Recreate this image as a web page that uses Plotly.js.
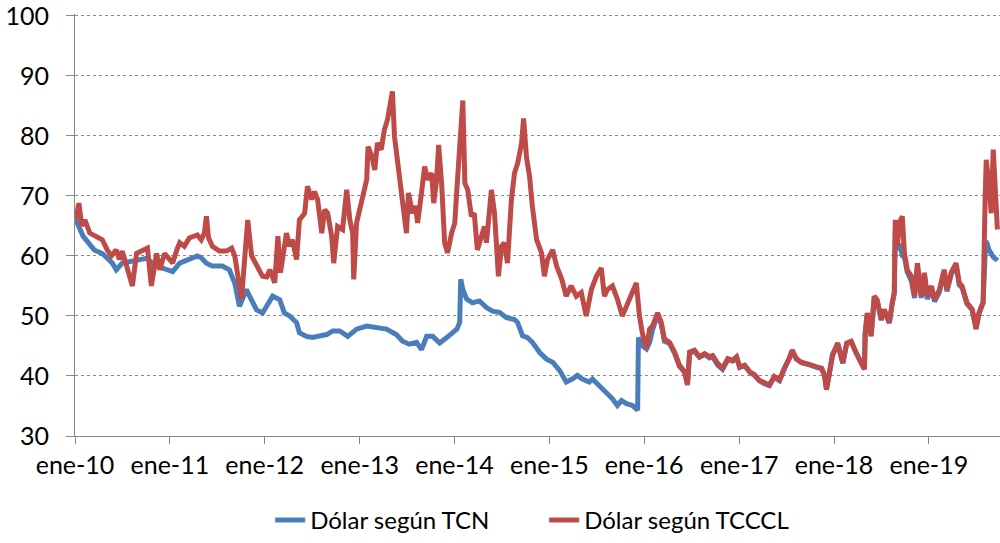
<!DOCTYPE html>
<html>
<head>
<meta charset="utf-8">
<script src="https://cdn.plot.ly/plotly-3.0.1.min.js"></script>
<style>
  html, body { margin: 0; padding: 0; background: #fff; }
  #chart { width: 1000px; height: 543px; }
</style>
</head>
<body>
<div id="chart"></div>
<script>
// Dólar según TCN (blue)
const tcnDates = [
  "2010-01-04","2010-02-01","2010-03-16","2010-04-16","2010-05-25","2010-06-09","2010-07-02","2010-08-26",
  "2010-10-03","2010-11-11","2011-01-01","2011-01-12","2011-02-08","2011-03-17","2011-04-17","2011-05-02",
  "2011-05-22","2011-06-14","2011-07-22","2011-08-18","2011-09-08","2011-09-26","2011-10-23","2011-11-04",
  "2011-12-01","2011-12-24","2012-01-09","2012-02-01","2012-02-28","2012-03-17","2012-04-06","2012-05-03",
  "2012-05-14","2012-06-10","2012-07-03","2012-07-30","2012-08-27","2012-09-19","2012-10-16","2012-11-16",
  "2012-12-20","2013-01-28","2013-03-06","2013-04-14","2013-05-22","2013-06-15","2013-07-11","2013-08-08",
  "2013-08-27","2013-09-16","2013-10-09","2013-11-05","2013-12-02","2013-12-25","2014-01-10","2014-01-21",
  "2014-01-25","2014-02-02","2014-02-17","2014-03-11","2014-04-07","2014-05-04","2014-05-27","2014-06-23",
  "2014-07-20","2014-08-20","2014-09-01","2014-09-20","2014-10-09","2014-10-28","2014-11-25","2014-12-21",
  "2015-01-14","2015-02-10","2015-03-07","2015-03-30","2015-04-19","2015-05-08","2015-06-04","2015-06-16",
  "2015-07-12","2015-08-09","2015-09-01","2015-09-20","2015-10-06","2015-10-25","2015-11-17","2015-12-07",
  "2015-12-10","2015-12-25","2016-01-10","2016-01-22","2016-02-03","2016-02-22","2016-03-07","2016-03-19",
  "2016-04-08","2016-04-27","2016-05-16","2016-06-05","2016-06-16","2016-06-24","2016-07-13","2016-08-01",
  "2016-08-21","2016-09-09","2016-09-21","2016-10-10","2016-10-29","2016-11-18","2016-12-07","2016-12-22",
  "2017-01-03","2017-01-22","2017-02-11","2017-03-01","2017-03-19","2017-04-08","2017-04-27","2017-05-16",
  "2017-06-05","2017-06-24","2017-07-13","2017-07-24","2017-08-09","2017-08-28","2017-09-17","2017-10-06",
  "2017-10-25","2017-11-14","2017-11-25","2017-12-03","2017-12-15","2017-12-26","2018-01-15","2018-02-04",
  "2018-02-19","2018-03-08","2018-03-27","2018-04-16","2018-04-28","2018-05-01","2018-05-09","2018-05-24",
  "2018-06-05","2018-06-16","2018-07-02","2018-07-13","2018-08-02","2018-08-13","2018-08-21","2018-08-25",
  "2018-09-02","2018-09-10","2018-09-21","2018-09-29","2018-10-10","2018-10-26","2018-11-07","2018-11-18",
  "2018-12-03","2018-12-15","2018-12-26","2019-01-11","2019-01-23","2019-02-11","2019-03-01","2019-03-12",
  "2019-03-28","2019-04-16","2019-04-28","2019-05-09","2019-05-28","2019-06-17","2019-07-02","2019-07-13",
  "2019-07-29","2019-08-06","2019-08-10","2019-08-21","2019-08-29","2019-09-06","2019-09-18","2019-09-22"
];
const tcnValues = [
  66, 63.3, 61, 60.4, 58.8, 57.7, 58.8, 59.4,
  59.6, 58.3, 57.7, 57.4, 58.8, 59.4, 60, 59.7,
  58.8, 58.3, 58.3, 57.7, 55.5, 51.6, 54.4, 53.3,
  51, 50.5, 51.6, 53.3, 52.7, 50.5, 50, 48.9,
  47.2, 46.6, 46.4, 46.6, 46.9, 47.5, 47.5, 46.6,
  47.8, 48.3, 48, 47.8, 46.9, 45.8, 45.3, 45.6,
  44.4, 46.6, 46.6, 45.5, 46.4, 47.2, 47.8, 48.9,
  56.1, 54.4, 52.8, 52.2, 52.5, 51.4, 50.8, 50.6,
  49.7, 49.4, 48.9, 46.7, 46.4, 45.6, 43.9, 42.8,
  42.3, 40.9, 39, 39.5, 40.1, 39.5, 39, 39.5,
  38.4, 37.3, 36.2, 35.1, 35.9, 35.4, 35.1, 34.3,
  46.4, 45, 44.5, 45.6, 47.8, 50.2, 48.6, 45.8,
  45.4, 43.8, 41.6, 40.6, 38.6, 43.8, 44.1, 43.1,
  43.6, 43, 43.2, 41.8, 41.1, 42.7, 42.5, 43,
  41.4, 41.7, 40.6, 40.1, 39.2, 38.7, 38.4, 39.8,
  39.2, 41.2, 42.8, 44.1, 42.8, 42.2, 42, 41.7,
  41.4, 41.2, 40.1, 37.8, 40.6, 43.6, 45.3, 42.1,
  45.4, 45.7, 43.8, 42.1, 41.2, 47, 50.3, 46.8,
  53.1, 52.5, 49.3, 51, 48.8, 52, 53.7, 64.5,
  61, 62, 60, 59.8, 57.3, 55.8, 53, 58.2,
  53, 56.8, 52.8, 54.6, 52.4, 54, 57.3, 54.1,
  56.9, 58.4, 55.2, 54.7, 52, 51, 47.9, 50.4,
  52.3, 60.5, 62.5, 61, 60.2, 59.8, 59.4, 59.2
];

// Dólar según TCCCL (red)
const tccclDates = [
  "2010-01-04","2010-01-16","2010-01-27","2010-02-08","2010-02-27","2010-03-24","2010-04-16","2010-05-05",
  "2010-05-21","2010-06-09","2010-06-21","2010-07-02","2010-08-10","2010-08-26","2010-09-18","2010-10-07",
  "2010-10-22","2010-11-11","2010-11-23","2010-12-12","2011-01-01","2011-01-12","2011-01-28","2011-02-08",
  "2011-02-26","2011-03-17","2011-04-17","2011-05-02","2011-05-14","2011-05-22","2011-05-30","2011-06-14",
  "2011-07-11","2011-08-07","2011-08-27","2011-09-08","2011-10-04","2011-10-16","2011-10-28","2011-11-12",
  "2011-12-01","2011-12-24","2012-01-09","2012-01-21","2012-02-09","2012-02-21","2012-03-02","2012-03-25",
  "2012-04-06","2012-04-17","2012-05-03","2012-05-14","2012-06-03","2012-06-14","2012-06-30","2012-07-11",
  "2012-07-23","2012-08-08","2012-08-19","2012-08-31","2012-09-15","2012-09-23","2012-10-08","2012-10-27",
  "2012-11-12","2012-11-24","2012-12-05","2012-12-09","2012-12-20","2013-01-09","2013-01-28","2013-02-02",
  "2013-02-17","2013-02-28","2013-03-10","2013-03-25","2013-04-06","2013-04-18","2013-04-29","2013-05-07",
  "2013-05-15","2013-05-26","2013-06-11","2013-06-19","2013-06-30","2013-07-08","2013-07-23","2013-08-04",
  "2013-08-12","2013-08-27","2013-09-08","2013-09-20","2013-10-05","2013-10-13","2013-10-24","2013-11-01",
  "2013-11-13","2013-11-24","2013-12-05","2013-12-21","2014-01-02","2014-01-10","2014-01-21","2014-02-02",
  "2014-02-10","2014-02-21","2014-03-07","2014-03-18","2014-03-30","2014-04-15","2014-04-26","2014-05-04",
  "2014-05-23","2014-06-04","2014-06-19","2014-07-01","2014-07-12","2014-07-24","2014-08-08","2014-08-20",
  "2014-09-01","2014-09-16","2014-09-24","2014-10-05","2014-10-17","2014-10-28","2014-11-13","2014-12-02",
  "2014-12-13","2014-12-25","2015-01-14","2015-01-29","2015-02-18","2015-03-07","2015-03-26","2015-04-15",
  "2015-05-04","2015-05-23","2015-06-12","2015-07-01","2015-07-20","2015-08-01","2015-08-13","2015-09-01",
  "2015-09-20","2015-10-09","2015-10-29","2015-11-17","2015-12-02","2015-12-14","2015-12-25","2016-01-10",
  "2016-01-22","2016-02-03","2016-02-22","2016-03-07","2016-03-19","2016-04-08","2016-04-27","2016-05-16",
  "2016-06-05","2016-06-16","2016-06-24","2016-07-13","2016-08-01","2016-08-21","2016-09-09","2016-09-21",
  "2016-10-10","2016-10-29","2016-11-18","2016-12-07","2016-12-22","2017-01-03","2017-01-22","2017-02-11",
  "2017-03-01","2017-03-19","2017-04-08","2017-04-27","2017-05-16","2017-06-05","2017-06-24","2017-07-13",
  "2017-07-24","2017-08-09","2017-08-28","2017-09-17","2017-10-06","2017-10-25","2017-11-14","2017-11-25",
  "2017-12-03","2017-12-15","2017-12-26","2018-01-15","2018-02-04","2018-02-19","2018-03-08","2018-03-27",
  "2018-04-16","2018-04-28","2018-05-01","2018-05-09","2018-05-24","2018-06-05","2018-06-16","2018-07-02",
  "2018-07-13","2018-08-02","2018-08-13","2018-08-21","2018-08-25","2018-09-02","2018-09-10","2018-09-21",
  "2018-09-29","2018-10-10","2018-10-26","2018-11-07","2018-11-18","2018-12-03","2018-12-15","2018-12-26",
  "2019-01-11","2019-01-23","2019-02-11","2019-03-01","2019-03-12","2019-03-28","2019-04-16","2019-04-28",
  "2019-05-09","2019-05-28","2019-06-17","2019-07-02","2019-07-13","2019-07-29","2019-08-06","2019-08-10",
  "2019-08-21","2019-08-29","2019-09-06","2019-09-18","2019-09-22"
];
const tccclValues = [
  66, 68.8, 65, 66, 63.8, 63.3, 62.7, 61,
  60, 61, 59.4, 60.8, 55, 60.4, 61, 61.3,
  55, 60.4, 57.7, 60.4, 59.4, 58.8, 61, 62.2,
  61.6, 63, 63.5, 62.7, 63.8, 66.6, 63, 61.6,
  60.8, 60.8, 61.3, 60, 52.8, 60, 66, 60,
  58.3, 56.6, 56.5, 57.7, 55.5, 63.3, 57.2, 63.8,
  61.6, 62.7, 59.4, 66, 67.1, 71.6, 69.4, 70.7,
  69.4, 63.8, 67.7, 67.1, 63.3, 58.8, 64.9, 64.4,
  71, 66, 63.8, 56.1, 65.5, 69.4, 72.7, 78.2,
  76.6, 74.3, 78.8, 77.7, 81, 82.7, 85.4, 87.4,
  79.9, 76, 71.6, 68.3, 63.8, 70.5, 67.1, 68.3,
  65.5, 70.5, 74.9, 72.7, 73.8, 68.8, 72.7, 78.5,
  71.6, 62.2, 60.5, 63.8, 65.5, 71, 79.3, 85.9,
  72.1, 71, 66.6, 67.1, 61, 63.8, 64.9, 62.2,
  71, 67.1, 56.6, 61.6, 62.2, 58.8, 69.3, 73.8,
  75.4, 78.7, 82.9, 76.5, 73.2, 68.2, 62.7, 60.5,
  56.6, 59.4, 61, 58.3, 56.1, 53.3, 55, 53.3,
  53.9, 50, 54.4, 56.6, 58, 53.3, 54.4, 55,
  52.8, 50, 52.2, 53.9, 55.5, 50, 47.2, 44.5,
  47.8, 48.4, 50.5, 48.9, 46.2, 45.6, 44, 41.8,
  40.7, 38.5, 44, 44.3, 43.2, 43.7, 43.2, 43.4,
  42.1, 41.3, 42.9, 42.6, 43.2, 41.5, 41.8, 40.7,
  40.2, 39.3, 38.8, 38.5, 39.9, 39.3, 41.3, 42.9,
  44.3, 42.9, 42.3, 42.1, 41.8, 41.5, 41.3, 40.2,
  37.7, 40.7, 43.3, 45.5, 42.2, 45.5, 45.8, 43.9,
  42.2, 41.1, 47.2, 50.5, 46.6, 53.3, 52.7, 49.4,
  51.1, 48.9, 52.2, 53.9, 66, 61.6, 65.5, 66.6,
  60.5, 57.7, 56.6, 53.3, 58.8, 53.3, 57.2, 53.3,
  55, 52.7, 54.4, 57.7, 54.4, 57.2, 58.8, 55.5,
  55, 52.2, 51.1, 47.8, 50.5, 52.2, 69.9, 76,
  71.6, 67.1, 77.7, 67.1, 64.4
];

const tickDates = ["2010-01-01","2011-01-01","2012-01-01","2013-01-01","2014-01-01",
                   "2015-01-01","2016-01-01","2017-01-01","2018-01-01","2019-01-01"];
const tickLabels = ["ene-10","ene-11","ene-12","ene-13","ene-14","ene-15","ene-16","ene-17","ene-18","ene-19"];
const yTicks = [30, 40, 50, 60, 70, 80, 90, 100];

const font = { family: "Lato, 'Liberation Sans Narrow', sans-serif", size: 25, color: "#000" };
const legendFont = { family: font.family, size: 24, color: "#000" };
const axisGray = "#868686";

const traces = [
  {
    x: tcnDates, y: tcnValues,
    type: "scatter", mode: "lines",
    name: "Dólar según TCN",
    line: { color: "#4A7EBB", width: 5 }
  },
  {
    x: tccclDates, y: tccclValues,
    type: "scatter", mode: "lines",
    name: "Dólar según TCCCL",
    line: { color: "#BE4B48", width: 5 }
  }
];

const layout = {
  width: 1000,
  height: 543,
  margin: { l: 75, r: 0, t: 14, b: 105 },
  paper_bgcolor: "white",
  plot_bgcolor: "white",
  font: font,
  showlegend: true,
  legend: {
    orientation: "h",
    x: 0.211, xanchor: "left",
    y: -0.2, yanchor: "middle",
    font: legendFont,
    itemwidth: 30,
    entrywidth: 229
  },
  xaxis: {
    type: "date",
    range: ["2010-01-01", "2019-10-02"],
    tickvals: tickDates,
    ticktext: tickLabels,
    showgrid: false,
    showline: true,
    linecolor: axisGray,
    linewidth: 1,
    ticks: "outside",
    ticklen: 7,
    tickcolor: axisGray,
    tickfont: font,
    zeroline: false
  },
  yaxis: {
    range: [30, 100.3],
    tickmode: "array",
    tickvals: yTicks,
    showgrid: true,
    gridcolor: "#8a8a8a",
    griddash: "dot",
    gridwidth: 1,
    showline: true,
    linecolor: axisGray,
    linewidth: 1,
    ticks: "outside",
    ticklen: 8,
    tickcolor: axisGray,
    tickfont: font,
    ticklabelstandoff: 12,
    ticklabeloverflow: "allow",
    zeroline: false
  }
};

Plotly.newPlot("chart", traces, layout, { displayModeBar: false, staticPlot: true });
</script>
</body>
</html>
